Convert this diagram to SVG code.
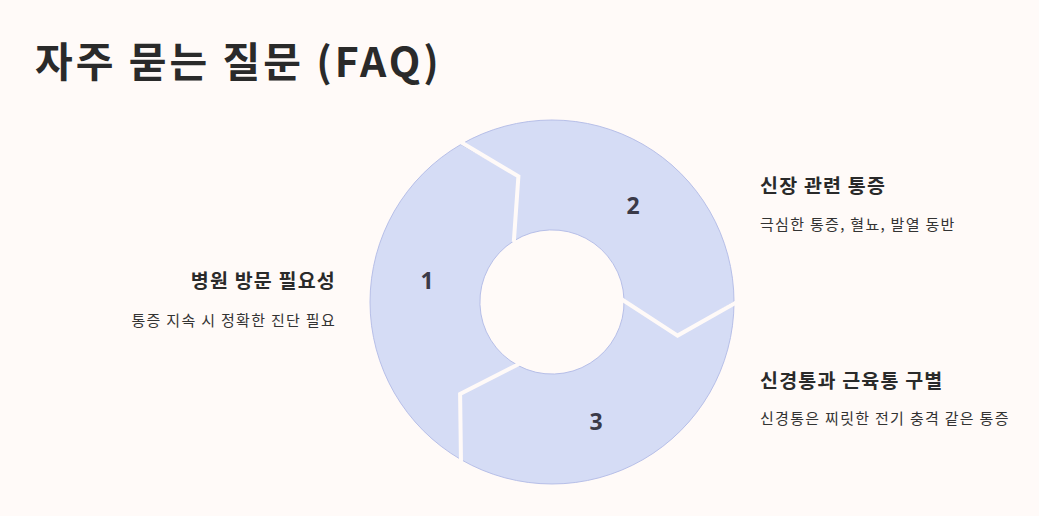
<svg xmlns="http://www.w3.org/2000/svg" width="1039" height="516" viewBox="0 0 1039 516">
<style>
text{font-family:"Noto Sans CJK KR","Noto Sans",sans-serif;fill:#2a2a2a}
.seg{fill:#d5dcf5;stroke:#b7bfe8;stroke-width:1}
.gap{fill:none;stroke:#fffaf8;stroke-width:4;stroke-linejoin:miter}
.num{font-family:"Open Sans","Noto Sans",sans-serif;font-weight:700;font-size:23px;fill:#3a3a48;text-anchor:middle}
.h{font-weight:700;font-size:19.5px;letter-spacing:1.2px}
.d{font-size:15px;fill:#333;letter-spacing:1.3px}
</style>
<rect width="1039" height="516" fill="#fffaf8"/>
<text x="35" y="77" font-size="41" font-weight="700" fill="#222" letter-spacing="3" font-family="Lato,'Noto Sans CJK KR',sans-serif">자주 묻는 질문 (FAQ)</text>
<g id="node1"><path class="seg" d="M461,459.6 A182 182 0 0 1 461,144.4 L518.4,176.4 L513.8,240.9 A72 72 0 0 0 518.2,365.6 L460.1,393.9 Z"/><text class="num" x="427" y="289">1</text></g>
<g id="node2"><path class="seg" d="M461,144.4 A182 182 0 0 1 734,302 L677.6,335.6 L624,299.5 A72 72 0 0 0 513.8,240.9 L518.4,176.4 Z"/><text class="num" x="633" y="214">2</text></g>
<g id="node3"><path class="seg" d="M734,302 A182 182 0 0 1 461,459.6 L460.1,393.9 L518.2,365.6 A72 72 0 0 0 624,299.5 L677.6,335.6 Z"/><text class="num" x="596" y="430">3</text></g>
<g id="connectors">
<polyline class="gap" points="459,141 518.4,176.4 513.8,242"/>
<polyline class="gap" points="737,302 677.6,335.6 622,299.5"/>
<polyline class="gap" points="461,463 460.1,393.9 519,364"/>
</g>
<g id="label1"><text class="h" x="336" y="288" text-anchor="end">병원 방문 필요성</text><text class="d" x="336" y="326" text-anchor="end">통증 지속 시 정확한 진단 필요</text></g>
<g id="label2"><text class="h" x="760" y="193">신장 관련 통증</text><text class="d" x="760" y="230">극심한 통증, 혈뇨, 발열 동반</text></g>
<g id="label3"><text class="h" x="760" y="388">신경통과 근육통 구별</text><text class="d" x="760" y="424">신경통은 찌릿한 전기 충격 같은 통증</text></g>
</svg>
